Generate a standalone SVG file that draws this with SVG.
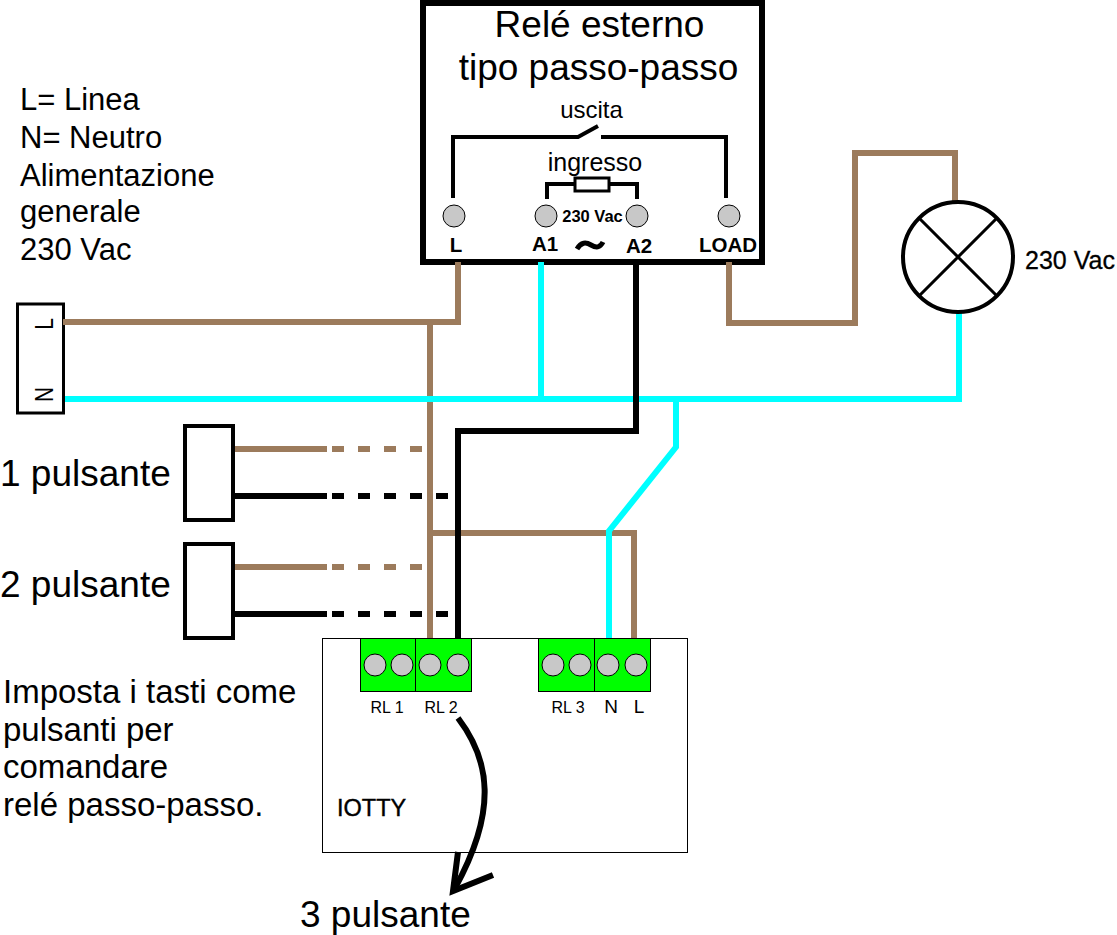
<svg xmlns="http://www.w3.org/2000/svg" width="1117" height="935" viewBox="0 0 1117 935">
<style>
text{font-family:"Liberation Sans",Arial,sans-serif;fill:#000}
.w{fill:none;stroke-width:6;stroke-linejoin:miter;stroke-linecap:butt}
.br{stroke:#9c7b5c}.cy{stroke:#00ffff}.bk{stroke:#000}
.da{stroke-dasharray:12 14}
.t{fill:none;stroke:#000;stroke-width:4}
.tb{fill:#00ff00;stroke:#000;stroke-width:1}
.sc{fill:#c8c8c8;stroke:#000;stroke-width:1}
.box{fill:#fff;stroke:#000;stroke-width:4}
.big{font-size:37px}.leg{font-size:31px}.not{font-size:33px}
.b{font-weight:bold;font-size:20.500px}
.sm{font-size:16px}
</style>
<rect width="1117" height="935" fill="#fff"/>
<g id="iotty"><rect x="322.500" y="638.500" width="365" height="214" fill="#fff" stroke="#000" stroke-width="1"/>
<text x="337" y="816" font-size="23.500" stroke="#000" stroke-width=".4">IOTTY</text></g>
<g id="rele">
<rect x="423" y="3" width="339" height="259" fill="#fff" stroke="#000" stroke-width="6"/>
<text x="599.500" y="37" text-anchor="middle" class="big">Relé esterno</text>
<text x="598.500" y="80" text-anchor="middle" class="big">tipo passo-passo</text>
<text x="591.500" y="118" text-anchor="middle" font-size="24">uscita</text>
<text x="595" y="171" text-anchor="middle" font-size="25">ingresso</text>
<path class="t" d="M453 198V137H578L598 126M601 137H726V198"/>
<path class="t" d="M547 199V184H575M609 184H637V199"/>
<rect x="575" y="178" width="34" height="13" fill="#fff" stroke="#000" stroke-width="3"/>
<circle class="sc" cx="454" cy="216" r="11"/><circle class="sc" cx="546" cy="216" r="11"/><circle class="sc" cx="637" cy="216" r="11"/><circle class="sc" cx="729" cy="216" r="11"/>
<text x="592.500" y="222" text-anchor="middle" font-size="16.500" font-weight="bold">230 Vac</text>
<text x="456" y="252" text-anchor="middle" class="b">L</text>
<text x="545" y="251" text-anchor="middle" class="b">A1</text>
<text x="639" y="253" text-anchor="middle" class="b">A2</text>
<text x="728" y="252" text-anchor="middle" class="b">LOAD</text>
<path d="M577 249C581 242 586 242 591 245C596 248 600 248 603 242" fill="none" stroke="#000" stroke-width="5"/>
</g>
<g id="alimentazione">
<rect x="17.500" y="304" width="46" height="109" fill="#fff" stroke="#000" stroke-width="3"/>
<text transform="translate(53,324) rotate(-90) scale(.8,1)" text-anchor="middle" font-size="26">L</text>
<text transform="translate(53,394.500) rotate(-90) scale(.8,1)" text-anchor="middle" font-size="26">N</text>
</g>
<g id="legenda">
<text x="20" y="110" class="leg">L= Linea</text>
<text x="20" y="148" class="leg">N= Neutro</text>
<text x="20" y="186" class="leg">Alimentazione</text>
<text x="20" y="222" class="leg">generale</text>
<text x="20" y="260" class="leg">230 Vac</text>
</g>
<g id="connectors">
<path class="w br" d="M63 322H458V262"/>
<path class="w br" d="M430 322V638"/>
<path class="w br" d="M430 533H634V638"/>
<path class="w br" d="M729 262V323H855V153H955V202"/>
<path class="w cy" d="M65 399H959V311"/>
<path class="w cy" d="M541 262V399"/>
<path class="w cy" d="M676 399V447L609 531V638"/>
<path class="w bk" d="M636 262V431H458V638"/>
<path class="w br" d="M233 449H327"/>
<path class="w br da" d="M332 449H424"/>
<path class="w bk" d="M233 496H327"/>
<path class="w bk da" d="M332 496H450"/>
<path class="w br" d="M233 567H327"/>
<path class="w br da" d="M332 567H424"/>
<path class="w bk" d="M233 614H327"/>
<path class="w bk da" d="M332 614H450"/>
<path d="M458 718C490 760 498 810 455 888" fill="none" stroke="#000" stroke-width="6"/>
<path d="M458 852L453 891L493 875" fill="none" stroke="#000" stroke-width="6"/>
</g>
<g id="lampada">
<circle cx="958" cy="257" r="55" fill="#fff" stroke="#000" stroke-width="4"/>
<path d="M919 218L997 296M997 218L919 296" stroke="#000" stroke-width="3"/>
<text x="1025" y="269" font-size="25" stroke="#000" stroke-width=".3">230 Vac</text>
</g>
<g id="pulsante1"><rect x="185" y="426" width="48" height="94" class="box"/>
<text x="0" y="486" class="big">1 pulsante</text></g>
<g id="pulsante2"><rect x="185" y="544" width="48" height="94" class="box"/>
<text x="0" y="597" class="big">2 pulsante</text></g>
<g id="morsetti">
<rect class="tb" x="360.500" y="638.500" width="55" height="53"/><rect class="tb" x="415.500" y="638.500" width="56" height="53"/>
<rect class="tb" x="538.500" y="638.500" width="56" height="53"/><rect class="tb" x="594.500" y="638.500" width="56" height="53"/>
<circle class="sc" cx="375" cy="665" r="11"/><circle class="sc" cx="402" cy="665" r="11"/><circle class="sc" cx="430" cy="665" r="11"/><circle class="sc" cx="458" cy="665" r="11"/>
<circle class="sc" cx="553" cy="665" r="11"/><circle class="sc" cx="580" cy="665" r="11"/><circle class="sc" cx="608" cy="665" r="11"/><circle class="sc" cx="636" cy="665" r="11"/>
<text x="387" y="713" text-anchor="middle" class="sm">RL 1</text>
<text x="441" y="713" text-anchor="middle" class="sm">RL 2</text>
<text x="568" y="713" text-anchor="middle" class="sm">RL 3</text>
<text x="611" y="713" text-anchor="middle" font-size="19">N</text>
<text x="639" y="713" text-anchor="middle" font-size="19">L</text>
</g>
<g id="note">
<text x="3" y="703" class="not">Imposta i tasti come</text>
<text x="3" y="741" class="not">pulsanti per</text>
<text x="3" y="778" class="not">comandare</text>
<text x="3" y="816" class="not">relé passo-passo.</text>
</g>
<text x="300" y="927" class="big">3 pulsante</text>
</svg>
